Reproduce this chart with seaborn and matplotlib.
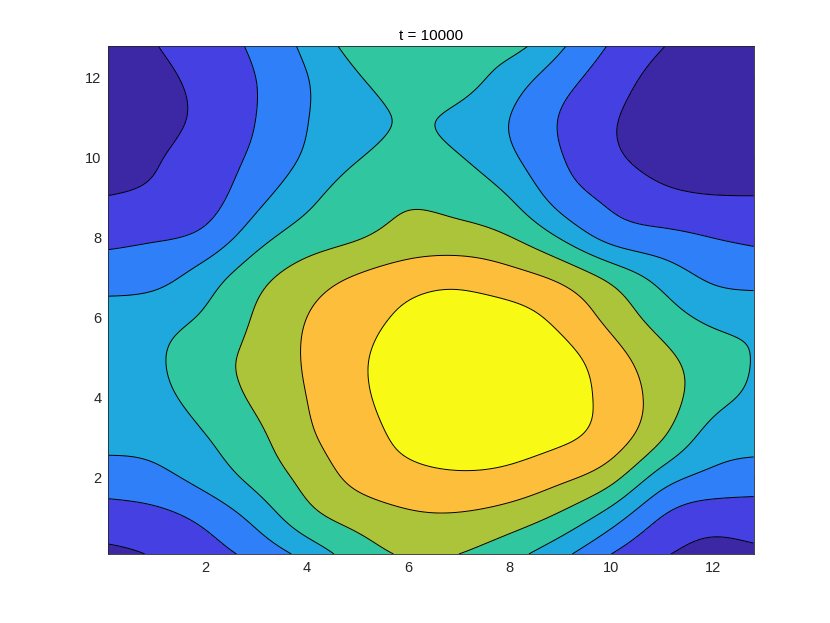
import numpy as np
import matplotlib
matplotlib.use("Agg")
import matplotlib.pyplot as plt
import seaborn as sns

# ---- data (field values, in contour-band units) ----
x_nodes = [0.1, 1, 2, 3, 4, 5, 6, 7, 8, 9, 10, 11, 12, 12.8]
y_nodes = [0.1, 1, 2, 3, 4, 5, 6, 7, 8, 9, 10, 11, 12, 12.8]

row_y00 = [0.8, 1.07, 1.6, 2.3, 3.35, 4.5, 5.1, 5.0, 4.35, 3.3, 2.0, 1.1, 0.75, 0.8]
row_y01 = [1.55, 1.7, 2.25, 3.29, 4.61, 5.35, 5.8, 5.85, 5.5, 4.75, 3.45, 1.95, 1.4, 1.5]
row_y02 = [2.5, 2.7, 3.36, 4.29, 5.31, 6.25, 6.7, 6.85, 6.7, 6.2, 5.3, 3.5, 2.7, 2.47]
row_y03 = [3.25, 3.35, 3.95, 4.75, 5.8, 6.6, 7.2, 7.45, 7.4, 7.15, 6.5, 5.05, 3.6, 3.4]
row_y04 = [3.35, 3.7, 4.4, 5.15, 6.0, 6.8, 7.4, 7.65, 7.6, 7.45, 6.65, 5.55, 4.3, 3.85]
row_y05 = [3.55, 3.85, 4.6, 5.25, 6.1, 6.85, 7.4, 7.6, 7.55, 7.3, 6.4, 5.3, 4.4, 3.97]
row_y06 = [3.45, 3.6, 4.15, 5.1, 6.0, 6.65, 7.15, 7.3, 7.3, 6.75, 5.7, 4.55, 3.8, 3.7]
row_y07 = [2.55, 2.7, 3.5, 4.65, 5.5, 6.1, 6.6, 6.75, 6.4, 5.8, 4.75, 3.65, 2.85, 2.65]
row_y08 = [1.8, 1.92, 2.3, 3.6, 4.5, 4.95, 5.35, 5.4, 5.05, 3.95, 2.7, 2.3, 2.0, 1.85]
row_y09 = [1.05, 1.2, 1.6, 2.7, 3.75, 4.55, 4.9, 4.7, 4.0, 2.6, 1.8, 1.3, 1.08, 1.05]
row_y10 = [0.35, 0.9, 1.45, 2.2, 3.15, 3.95, 4.35, 4.06, 3.2, 2.07, 1.2, 0.6, 0.25, 0.25]
row_y11 = [0.2, 0.6, 1.25, 2.0, 2.96, 3.65, 4.08, 3.8, 3.0, 1.95, 1.1, 0.55, 0.2, 0.15]
row_y12 = [0.25, 0.7, 1.33, 2.0, 2.96, 3.93, 4.35, 4.35, 3.55, 2.45, 1.45, 0.7, 0.3, 0.25]
row_y13 = [0.35, 0.95, 1.55, 2.17, 3.25, 4.3, 4.25, 4.25, 4.3, 3.15, 1.9, 1.04, 0.55, 0.35]

contour_levels = [1, 2, 3, 4, 5, 6, 7]
band_colors = ["#3c28a5", "#4540e2", "#2f80f8", "#1ea8de",
               "#30c6a0", "#abc43a", "#fdbe3c", "#f8f914"]
x_ticks = [2, 4, 6, 8, 10, 12]
y_ticks = [2, 4, 6, 8, 10, 12]
title_text = "t = 10000"


def spline_matrix(t, tf):
    """Natural cubic spline evaluation matrix: values at tf = M @ values at t."""
    t = np.asarray(t, float)
    tf = np.asarray(tf, float)
    n = len(t)
    h = np.diff(t)
    A = np.zeros((n, n))
    B = np.zeros((n, n))
    A[0, 0] = A[-1, -1] = 1.0
    for i in range(1, n - 1):
        A[i, i - 1] = h[i - 1] / 6
        A[i, i] = (h[i - 1] + h[i]) / 3
        A[i, i + 1] = h[i] / 6
        B[i, i - 1] = 1 / h[i - 1]
        B[i, i] = -1 / h[i - 1] - 1 / h[i]
        B[i, i + 1] = 1 / h[i]
    D2 = np.linalg.solve(A, B)
    k = np.clip(np.searchsorted(t, tf) - 1, 0, n - 2)
    hk = h[k]
    a = (t[k + 1] - tf) / hk
    b = (tf - t[k]) / hk
    M = np.zeros((len(tf), n))
    rows = np.arange(len(tf))
    M[rows, k] += a
    M[rows, k + 1] += b
    M += ((a ** 3 - a) * hk ** 2 / 6)[:, None] * D2[k]
    M += ((b ** 3 - b) * hk ** 2 / 6)[:, None] * D2[k + 1]
    return M


# ---- style ----
sns.set_theme(style="white")
plt.rcParams["font.family"] = ["Liberation Sans", "DejaVu Sans"]

fig = plt.figure(figsize=(8.3, 6.23), dpi=100)
ax = fig.add_axes([0.1307, 0.1108, 0.7773, 0.8154])

Z = np.array([row_y00, row_y01, row_y02, row_y03, row_y04, row_y05, row_y06,
              row_y07, row_y08, row_y09, row_y10, row_y11, row_y12, row_y13])
xf = np.linspace(min(x_nodes), max(x_nodes), 400)
yf = np.linspace(min(y_nodes), max(y_nodes), 400)
Zf = spline_matrix(y_nodes, yf) @ Z @ spline_matrix(x_nodes, xf).T

palette = sns.color_palette(band_colors)
fill_levels = [-100] + contour_levels + [100]
ax.contourf(xf, yf, Zf, levels=fill_levels, colors=palette)
ax.contour(xf, yf, Zf, levels=contour_levels, colors="black", linewidths=0.7)

ax.set_xlim(min(x_nodes), max(x_nodes))
ax.set_ylim(min(y_nodes), max(y_nodes))
ax.set_xticks(x_ticks)
ax.set_yticks(y_ticks)
ax.tick_params(direction="in", top=True, right=True, length=5, width=0.6,
               colors="#262626", labelsize=10.5, pad=5)
for s in ax.spines.values():
    s.set_linewidth(0.6)
    s.set_color("#262626")
ax.set_title(title_text, fontsize=11, pad=4, color="black")

fig.savefig("out.png", dpi=100)
